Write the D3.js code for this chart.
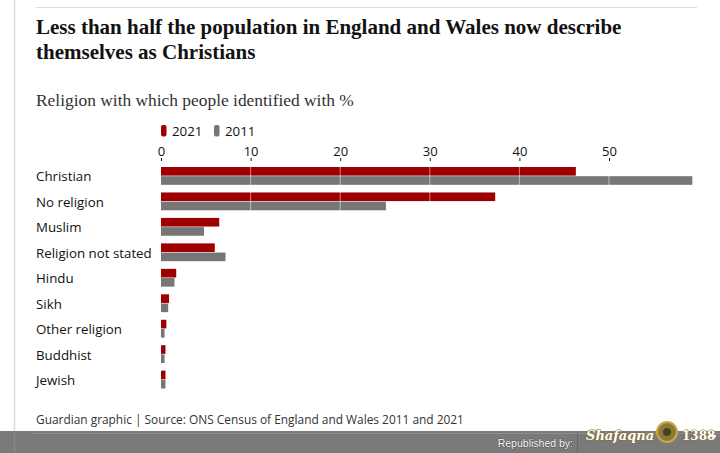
<!DOCTYPE html>
<html>
<head>
<meta charset="utf-8">
<script src="https://cdn.jsdelivr.net/npm/d3@7"></script>
<style>
  body { margin: 0; background: #fff; }
  svg { display: block; }
  .label { font-family: "Open Sans", sans-serif; font-size: 13.3px; fill: #121212; }
  .tick text { font-family: "Open Sans", sans-serif; font-size: 13px; fill: #121212; }
</style>
</head>
<body>
<script>
// data
var religions = ["Christian", "No religion", "Muslim", "Religion not stated", "Hindu", "Sikh", "Other religion", "Buddhist", "Jewish"];
var years = ["2021", "2011"];
var values2021 = [46.3, 37.3, 6.5, 6.0, 1.7, 0.9, 0.6, 0.5, 0.5];
var values2011 = [59.3, 25.1, 4.8, 7.2, 1.5, 0.8, 0.4, 0.4, 0.5];
var tickValues = [0, 10, 20, 30, 40, 50];
var colours = { "2021": "#9e0000", "2011": "#767676" };

var width = 720, height = 453;

var svg = d3.select("body").append("svg")
    .attr("width", width).attr("height", height);

// frame lines
svg.append("line").attr("x1", 14.5).attr("x2", 14.5).attr("y1", 0).attr("y2", height)
    .attr("stroke", "#dcdcdc").attr("stroke-width", 1.5);
svg.append("line").attr("x1", 36).attr("x2", 697).attr("y1", 7.5).attr("y2", 7.5)
    .attr("stroke", "#dcdcdc").attr("stroke-width", 1);

// title
var title = svg.append("text")
    .style("font-family", "'Liberation Serif', serif")
    .style("font-weight", "bold")
    .style("font-size", "21px")
    .style("letter-spacing", "0px")
    .style("fill", "#121212");
title.append("tspan").attr("x", 36).attr("y", 34).text("Less than half the population in England and Wales now describe");
title.append("tspan").attr("x", 36).attr("y", 59).text("themselves as Christians");

// subtitle
svg.append("text")
    .attr("x", 36).attr("y", 106)
    .style("font-family", "'Liberation Serif', serif")
    .style("font-size", "17.4px")
    .style("fill", "#333")
    .text("Religion with which people identified with %");

// scales
var step = 25.46, pad = 0.3;
var x = d3.scaleLinear().domain([0, 50]).range([161, 609]);
var y = d3.scaleBand().domain(religions).range([167, 167 + step * (religions.length - pad)]).paddingInner(pad).paddingOuter(0);
var ySub = d3.scaleBand().domain(years).range([0, y.bandwidth()]).paddingInner(0.06);

// legend
var legend = svg.append("g").attr("transform", "translate(161,125)");
years.forEach(function(yr, i) {
    var g = legend.append("g").attr("transform", "translate(" + (i * 53) + ",0)");
    g.append("rect").attr("x", 0).attr("y", 0).attr("width", 5.5).attr("height", 11.5)
        .attr("rx", 2).attr("fill", colours[yr]);
    g.append("text").attr("class", "label").attr("x", 11).attr("y", 10.5).text(yr);
});

// axis
var axis = d3.axisTop(x).tickValues(tickValues).tickSize(3).tickPadding(2).tickFormat(d3.format("d"));
var axisG = svg.append("g").attr("transform", "translate(0,161)").call(axis);
axisG.select(".domain").remove();
axisG.selectAll(".tick line").attr("stroke", "#121212");

// bars
var rows = religions.map(function(r, i) {
    return { name: r, "2021": values2021[i], "2011": values2011[i] };
});

var rowG = svg.selectAll(".row").data(rows).enter().append("g")
    .attr("class", "row")
    .attr("transform", function(d) { return "translate(0," + y(d.name) + ")"; });

rowG.selectAll("rect").data(function(d) {
    return years.map(function(yr) { return { year: yr, value: d[yr] }; });
}).enter().append("rect")
    .attr("x", x(0))
    .attr("y", function(d) { return ySub(d.year); })
    .attr("width", function(d) { return x(d.value) - x(0); })
    .attr("height", ySub.bandwidth())
    .attr("fill", function(d) { return colours[d.year]; });

rowG.append("text").attr("class", "label")
    .attr("x", 36)
    .attr("y", y.bandwidth() / 2 + 5.5)
    .text(function(d) { return d.name; });

// gridlines over the bars
svg.selectAll(".grid").data(tickValues.slice(1)).enter().append("line")
    .attr("x1", function(d) { return x(d); }).attr("x2", function(d) { return x(d); })
    .attr("y1", 162).attr("y2", 392)
    .attr("stroke", "#fff").attr("stroke-opacity", 0.5).attr("stroke-width", 1);

// source
svg.append("text").attr("class", "label")
    .attr("x", 36).attr("y", 424)
    .style("font-size", "11.9px")
    .style("fill", "#333")
    .text("Guardian graphic | Source: ONS Census of England and Wales 2011 and 2021");

// republished band
svg.append("rect").attr("x", 0).attr("y", 431).attr("width", width).attr("height", 22).attr("fill", "#7a7a7a");
svg.append("line").attr("x1", 32).attr("x2", width).attr("y1", 433.5).attr("y2", 433.5)
    .attr("stroke", "#8e8e8e").attr("stroke-width", 1);
svg.append("line").attr("x1", 14.5).attr("x2", 14.5).attr("y1", 431).attr("y2", height)
    .attr("stroke", "#888").attr("stroke-width", 1.5);
svg.append("line").attr("x1", 577.5).attr("x2", 577.5).attr("y1", 433).attr("y2", height)
    .attr("stroke", "#6a6a6a").attr("stroke-width", 1);
svg.append("text")
    .attr("x", 573).attr("y", 447).attr("text-anchor", "end")
    .style("font-family", "'Liberation Sans', sans-serif").style("font-size", "10.5px")
    .style("fill", "#fff").style("stroke", "#333").style("stroke-width", 0.6).style("paint-order", "stroke")
    .text("Republished by:");

// logo approximation
var logo = svg.append("g").attr("transform", "translate(586,420)");
logo.append("text").attr("x", 0).attr("y", 20)
    .style("font-family", "'DejaVu Serif', serif").style("font-style", "italic").style("font-weight", "bold")
    .style("font-size", "13px").style("fill", "#fff").style("stroke", "#8a6d1f").style("stroke-width", 1.2)
    .style("paint-order", "stroke")
    .text("Shafaqna");
logo.append("circle").attr("cx", 81).attr("cy", 12).attr("r", 10)
    .attr("fill", "#8a7a3a").attr("stroke", "#c9a94a").attr("stroke-width", 2);
logo.append("circle").attr("cx", 81).attr("cy", 12).attr("r", 4).attr("fill", "#4a4020");
logo.append("text").attr("x", 96).attr("y", 20)
    .style("font-family", "'DejaVu Serif', serif").style("font-weight", "bold")
    .style("font-size", "12px").style("fill", "#fff").style("stroke", "#8a6d1f").style("stroke-width", 1)
    .style("paint-order", "stroke")
    .text("1388");
logo.append("line").attr("x1", 124).attr("x2", 130).attr("y1", 16).attr("y2", 16)
    .attr("stroke", "#fff").attr("stroke-width", 2);
</script>
</body>
</html>
